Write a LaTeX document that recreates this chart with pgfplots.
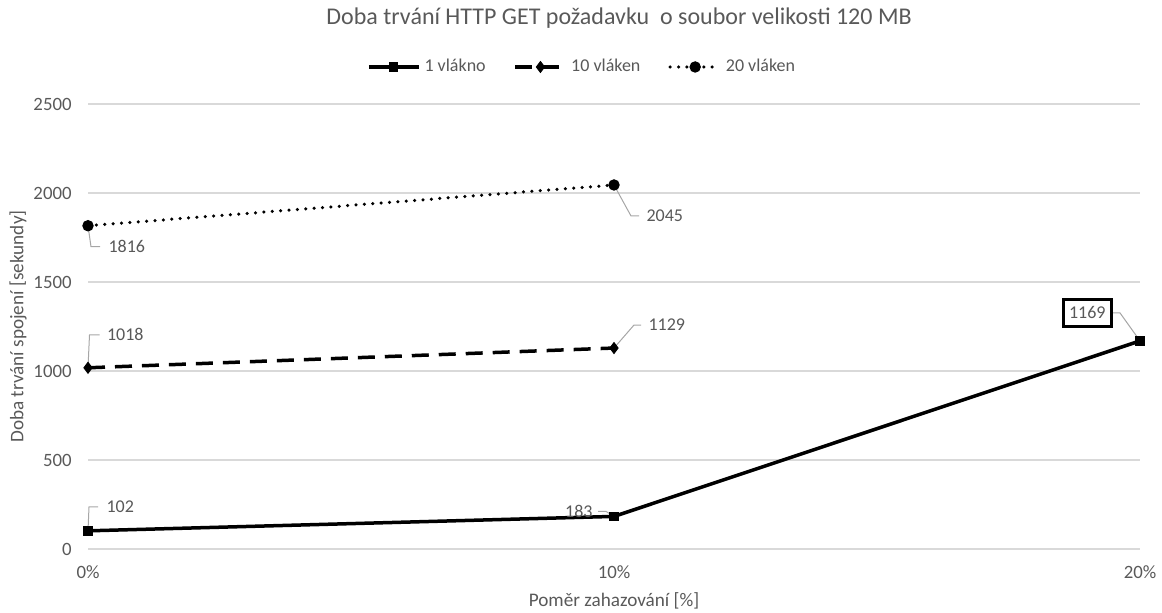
\documentclass[border=0pt]{standalone}
\usepackage{pgfplots}
\pgfplotsset{compat=1.18}
\usepackage{fontspec}
\setmainfont{Carlito}
\definecolor{txt}{HTML}{595959}
\definecolor{gridc}{HTML}{D9D9D9}
\definecolor{lead}{HTML}{A6A6A6}
\newcommand{\lbl}{\fontsize{9}{11}\selectfont}
\begin{document}
\begin{tikzpicture}
\begin{axis}[
 name=ax,
 scale only axis, width=526pt, height=222.5pt,
 xmin=0, xmax=2, ymin=0, ymax=2500,
 xtick={0,1,2}, xticklabels={0\%,10\%,20\%},
 ytick={0,500,1000,1500,2000,2500},
 ymajorgrids, major grid style={draw=gridc, line width=0.6pt},
 axis line style={draw=none}, tick style={draw=none},
 clip=false,
 /pgf/number format/assume math mode=true,
 /pgf/number format/1000 sep={},
 ticklabel style={font=\fontsize{9.4}{11}\selectfont, text=txt},
 yticklabel style={inner sep=0pt, anchor=east, xshift=-8pt},
 xticklabel style={inner sep=0pt, anchor=north, yshift=-8pt},
 title={Doba trvání HTTP GET požadavku\ \ o soubor velikosti 120 MB},
 title style={at={(axis description cs:0.5048,1)}, anchor=center, yshift=37pt, font=\fontsize{12}{14}\selectfont, text=txt},
 xlabel={Poměr zahazování [\%]},
 xlabel style={at={(axis description cs:0.5,0)}, anchor=center, yshift=-26pt, font=\fontsize{9.6}{12}\selectfont, text=txt},
 ylabel={Doba trvání spojení [sekundy]},
 ylabel style={at={(axis description cs:-0.0665,0.5)}, anchor=center, font=\fontsize{9.6}{12}\selectfont, text=txt},
 legend style={at={(axis description cs:0.4706,1)}, anchor=center, yshift=18.5pt, draw=none, legend columns=3, font=\lbl, text=txt, /tikz/every even column/.append style={column sep=12pt}},
 legend image code/.code={\draw[#1, mark repeat=2, mark phase=2] plot coordinates {(0pt,0pt) (12.5pt,0pt) (25pt,0pt)};},
]
\addplot[black, line width=1.75pt, mark=square*, mark size=2.1pt, mark options={solid, line width=0.5pt}] coordinates {(0,102) (1,183) (2,1169)};
\addlegendentry{1 vlákno}
\addplot[black, line width=1.75pt, dash pattern=on 8.5pt off 5pt, mark=diamond*, mark size=2.7pt, mark options={solid, line width=0.5pt}] coordinates {(0,1018) (1,1129)};
\addlegendentry{10 vláken}
\addplot[black, line width=1.75pt, line cap=round, dash pattern=on 0pt off 4.2pt, mark=*, mark size=2.6pt, mark options={solid, line width=0.5pt}] coordinates {(0,1816) (1,2045)};
\addlegendentry{20 vláken}

\draw[lead, line width=0.5pt] (axis cs:0,102) -- ++(0.5pt,12pt) -- ++(4.5pt,0) node[anchor=west, inner sep=0pt, xshift=4pt, text=txt, font=\lbl] {102};
\draw[lead, line width=0.5pt] (axis cs:0,1018) -- ++(0.75pt,16.5pt) -- ++(5pt,0) node[anchor=west, inner sep=0pt, xshift=3.5pt, text=txt, font=\lbl] {1018};
\draw[lead, line width=0.5pt] (axis cs:0,1816) -- ++(1.5pt,-10.5pt) -- ++(4.5pt,0) node[anchor=west, inner sep=0pt, xshift=4pt, text=txt, font=\lbl] {1816};
\draw[lead, line width=0.5pt] (axis cs:1,2045) -- ++(8.5pt,-15.5pt) -- ++(4pt,0) node[anchor=west, inner sep=0pt, xshift=3.5pt, text=txt, font=\lbl] {2045};
\draw[lead, line width=0.5pt] (axis cs:1,1129) -- ++(10pt,11.5pt) -- ++(3.5pt,0) node[anchor=west, inner sep=0pt, xshift=3.5pt, text=txt, font=\lbl] {1129};
\draw[lead, line width=0.5pt] (axis cs:1,183) -- ++(-4pt,2.5pt) -- ++(-4pt,0) node[anchor=east, inner sep=0pt, xshift=-2.5pt, text=txt, font=\lbl] {183};
\draw[lead, line width=0.5pt] (axis cs:2,1169) -- ++(-10pt,14pt) -- ++(-3.5pt,0) node[anchor=east, draw=black, line width=1.5pt, inner xsep=3pt, inner ysep=3.5pt, text=txt, font=\lbl] {1169};
\end{axis}
\pgfresetboundingbox
\path[use as bounding box] ([xshift=-44pt, yshift=-32pt]ax.south west) rectangle ([xshift=11pt, yshift=52pt]ax.north east);
\end{tikzpicture}
\end{document}
